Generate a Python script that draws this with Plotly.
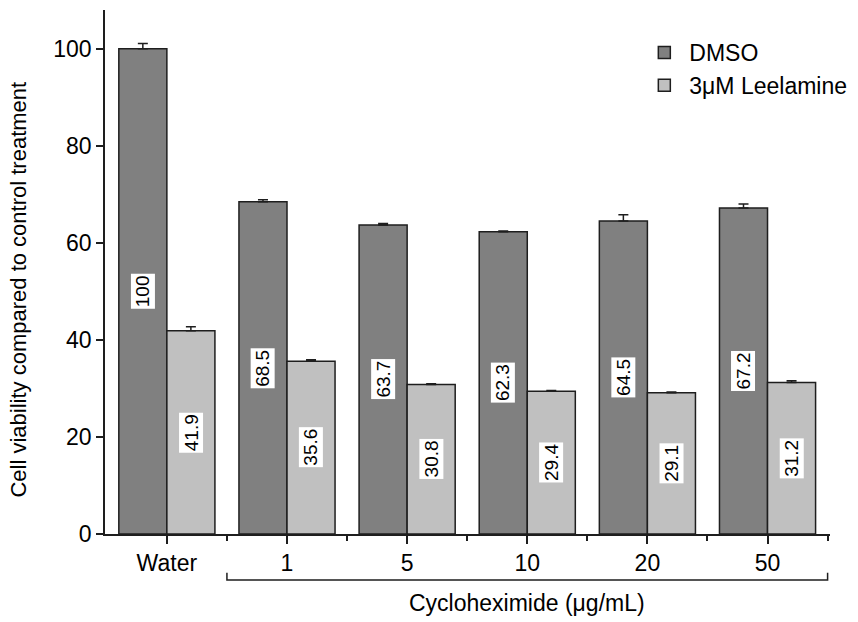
import plotly.graph_objects as go

categories = ["Water", "1", "5", "10", "20", "50"]
dmso = [100, 68.5, 63.7, 62.3, 64.5, 67.2]
dmso_err = [1.1, 0.4, 0.3, 0.15, 1.3, 0.8]
leel = [41.9, 35.6, 30.8, 29.4, 29.1, 31.2]
leel_err = [0.8, 0.3, 0.15, 0.2, 0.15, 0.4]
series_names = ["DMSO", "3\u03bcM Leelamine"]
y_ticks = [0, 20, 40, 60, 80, 100]
group_label = "Cycloheximide (\u03bcg/mL)"
y_title = "Cell viability compared to control treatment"

FONT = "Liberation Sans, Arial, sans-serif"
x_pos = list(range(len(categories)))

fig = go.Figure()
fig.add_trace(go.Bar(
    x=x_pos, y=dmso, name=series_names[0], offsetgroup="a",
    marker=dict(color="#808080", line=dict(color="#1e1e1e", width=1.5)),
    error_y=dict(type="data", array=dmso_err, arrayminus=[0]*len(dmso), symmetric=False,
                 color="#1e1e1e", thickness=1.5, width=5),
))
fig.add_trace(go.Bar(
    x=x_pos, y=leel, name=series_names[1], offsetgroup="b",
    marker=dict(color="#c0c0c0", line=dict(color="#1e1e1e", width=1.5)),
    error_y=dict(type="data", array=leel_err, arrayminus=[0]*len(leel), symmetric=False,
                 color="#1e1e1e", thickness=1.5, width=5),
))

# value labels
for i, (a, b) in enumerate(zip(dmso, leel)):
    for off, v in ((-0.2, a), (0.2, b)):
        fig.add_annotation(x=i + off, y=v * 0.5, xref="x", yref="y",
                           text=f"{v:g}", textangle=-90, showarrow=False,
                           bgcolor="white", borderpad=1,
                           font=dict(family=FONT, size=19, color="black"))

# bracket under the cycloheximide groups
fig.add_shape(type="path", xref="x", yref="paper",
              path="M 0.5,-0.074 L 0.5,-0.088 L 5.5,-0.088 L 5.5,-0.074",
              line=dict(color="#1e1e1e", width=1.5))
fig.add_annotation(x=3, y=-0.132, xref="x", yref="paper", text=group_label,
                   xanchor="center", yanchor="middle",
                   showarrow=False, font=dict(family=FONT, size=23, color="black"))

# y axis title
fig.add_annotation(x=-0.119, y=0.466, xref="paper", yref="paper", text=y_title,
                   textangle=-90, showarrow=False, xanchor="center", yanchor="middle",
                   font=dict(family=FONT, size=22, color="black"))

fig.update_layout(
    width=858, height=622,
    margin=dict(l=105, r=28, t=10, b=88, autoexpand=False),
    paper_bgcolor="white", plot_bgcolor="white",
    barmode="group", bargap=0.2, bargroupgap=0,
    font=dict(family=FONT, size=23, color="black"),
    showlegend=True,
    legend=dict(x=0.737, y=0.96, xanchor="left", yanchor="top",
                font=dict(family=FONT, size=23), bgcolor="rgba(0,0,0,0)",
                itemwidth=40, tracegroupgap=0),
    xaxis=dict(range=[-0.515, 5.52], tickmode="array", tickvals=x_pos, ticktext=categories,
               showline=True, linecolor="#1e1e1e", linewidth=1.5,
               ticks="outside", ticklen=8, tickwidth=1.5, tickcolor="#1e1e1e",
               showgrid=False, zeroline=False,
               minor=dict(tickmode="array", tickvals=[i + 0.5 for i in x_pos],
                          ticks="outside", ticklen=5, tickwidth=1.5, tickcolor="#1e1e1e",
                          showgrid=False),
               tickfont=dict(family=FONT, size=23)),
    yaxis=dict(range=[0, 108], tickmode="array", tickvals=y_ticks,
               showline=True, linecolor="#1e1e1e", linewidth=1.5,
               ticks="outside", ticklen=7, tickwidth=1.5, tickcolor="#1e1e1e",
               showgrid=False, zeroline=False,
               tickfont=dict(family=FONT, size=23)),
)

fig.write_html("out.html", config={"displayModeBar": False},
               post_script="document.body.style.margin='0';document.body.style.overflow='hidden';")
